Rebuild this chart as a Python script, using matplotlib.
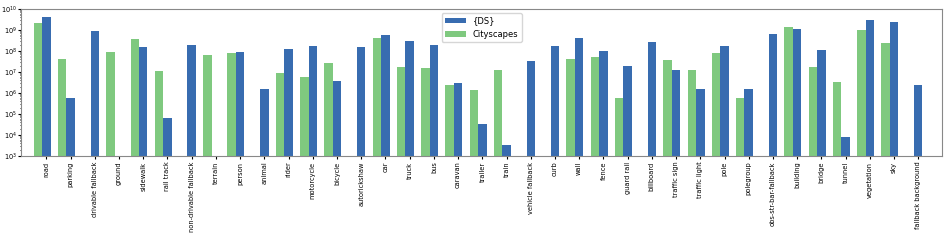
import matplotlib
matplotlib.use("Agg")
import matplotlib.pyplot as plt
import numpy as np

categories = ["road", "parking", "drivable fallback", "ground", "sidewalk", "rail track",
              "non-drivable fallback", "terrain", "person", "animal", "rider", "motorcycle",
              "bicycle", "autorickshaw", "car", "truck", "bus", "caravan", "trailer", "train",
              "vehicle fallback", "curb", "wall", "fence", "guard rail", "billboard",
              "traffic sign", "traffic light", "pole", "polegroup", "obs-str-bar-fallback",
              "building", "bridge", "tunnel", "vegetation", "sky", "fallback background"]

ds_values = [4.2e9, 6.0e5, 9.1e8, 0, 1.6e8, 6.6e4,
             2.0e8, 0, 8.5e7, 1.6e6, 1.2e8, 1.8e8,
             3.6e6, 1.55e8, 5.8e8, 3.1e8, 2.0e8, 2.9e6, 3.5e4, 3.4e3,
             3.2e7, 1.8e8, 3.9e8, 9.4e7, 1.85e7, 2.7e8,
             1.3e7, 1.55e6, 1.7e8, 1.5e6, 6.4e8,
             1.1e9, 1.05e8, 8.3e3, 2.8e9, 2.4e9, 2.35e6]

cityscapes_values = [2.2e9, 4.0e7, 0, 8.7e7, 3.5e8, 1.07e7,
                     0, 6.6e7, 7.6e7, 0, 8.7e6, 5.6e6,
                     2.7e7, 0, 4.2e8, 1.66e7, 1.55e7, 2.35e6, 1.4e6, 1.3e7,
                     0, 0, 4.0e7, 5.1e7, 5.6e5, 0,
                     3.5e7, 1.25e7, 7.6e7, 5.6e5, 0,
                     1.37e9, 1.7e7, 3.2e6, 9.5e8, 2.3e8, 0]

blue = "#386cb0"
green = "#7fc97f"

fig = plt.figure(figsize=(9.52, 2.4), dpi=100)
ax = fig.add_axes([0.022, 0.35, 0.968, 0.613])

x = np.arange(len(categories))
w = 0.35
ds = np.array(ds_values, dtype=float)
cs = np.array(cityscapes_values, dtype=float)
ds_m = np.where(ds > 0, ds, np.nan)
cs_m = np.where(cs > 0, cs, np.nan)

ax.bar(x, ds_m, w, color=blue, label="{DS}")
ax.bar(x - w, cs_m, w, color=green, label="Cityscapes")

ax.set_yscale("log")
ax.set_ylim(1e3, 1e10)
ax.set_xlim(-1.05, 37.0)
ax.set_xticks(x)
ax.set_xticklabels(categories, rotation=90, fontsize=4.8)
ax.tick_params(axis="y", labelsize=4.8, pad=1, length=2)
ax.tick_params(axis="y", which="minor", length=1)
ax.tick_params(axis="x", pad=2, length=2)
ax.legend(loc="upper center", fontsize=6, handlelength=2.5, borderaxespad=0.5)

for s in ax.spines.values():
    s.set_color("#888888")
    s.set_linewidth(0.8)

fig.savefig("out.png", dpi=100)
